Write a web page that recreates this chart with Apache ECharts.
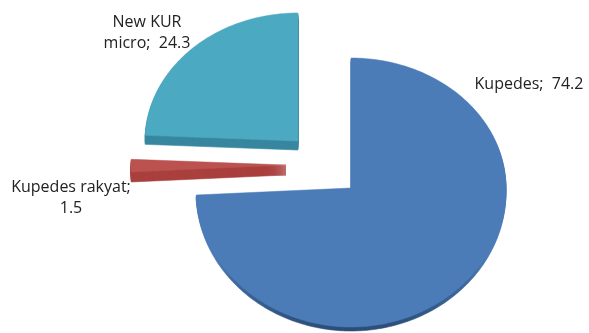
<!DOCTYPE html>
<html>
<head>
<meta charset="utf-8">
<style>html,body{margin:0;padding:0;background:#fff}#chart{width:589px;height:333px}</style>
<script src="https://cdn.jsdelivr.net/npm/echarts@6/dist/echarts.min.js"></script>
</head>
<body>
<div id="chart"></div>
<script>
// Loan portfolio shares, drawn as an exploded tilted pie
const categories = ['Kupedes', 'Kupedes rakyat', 'New KUR micro'];
const values = [74.2, 1.5, 24.3];
const labelLines = [['Kupedes;  74.2'], ['Kupedes rakyat;', '1.5'], ['New KUR', 'micro;  24.3']];

const topColors = ['#4c7cb7', '#bb5250', '#4ba9c1'];
const rimColors = ['#2a4d78', '#aa403e', '#38879f'];
const rimFadeStart = [0.72, 0, 0];

// Per-slice geometry of the tilted disc: apex, radii above/below the apex, rim depth
const discs = [
  { cx: 351, cy: 188, rx: 155, ryUp: 130, ryDown: 139, depth: 4, lx: 529, ly: 84 },
  { cx: 286, cy: 165, rx: 155, ryUp: 130, ryDown: 139, depth: 10, lx: 71, ly: 198 },
  { cx: 298, cy: 141, rx: 153, ryUp: 128, ryDown: 139, depth: 9, lx: 147, ly: 33 }
];

const total = values.reduce((a, b) => a + b, 0);
const starts = values.map((_, i) => values.slice(0, i).reduce((a, b) => a + b, 0));

function slicePoints(i, shift) {
  const d = discs[i];
  const a0 = starts[i] / total * 2 * Math.PI;
  const a1 = (starts[i] + values[i]) / total * 2 * Math.PI;
  const pts = [[d.cx, d.cy + shift]];
  const steps = Math.max(4, Math.ceil((a1 - a0) * 60));
  for (let s = 0; s <= steps; s++) {
    const a = a0 + (a1 - a0) * s / steps;
    const c = Math.cos(a);
    pts.push([d.cx + d.rx * Math.sin(a), d.cy + shift - (c > 0 ? d.ryUp : d.ryDown) * c]);
  }
  return pts;
}

function rimFill(i) {
  if (!rimFadeStart[i]) return rimColors[i];
  return new echarts.graphic.LinearGradient(0, 0, 0, 1, [
    { offset: 0, color: topColors[i] },
    { offset: rimFadeStart[i], color: topColors[i] },
    { offset: 1, color: rimColors[i] }
  ]);
}

function renderSlice(params, api) {
  const i = params.dataIndex;
  const d = discs[i];
  const children = [];
  for (let s = d.depth; s > 0; s--) {
    const fill = rimFill(i);
    children.push({
      type: 'polygon',
      shape: { points: slicePoints(i, s) },
      style: { fill, stroke: fill, lineWidth: 0.6 }
    });
  }
  children.push({
    type: 'polygon',
    shape: { points: slicePoints(i, 0) },
    style: { fill: topColors[i], stroke: topColors[i], lineWidth: 0.5 }
  });
  children.push({
    type: 'text',
    x: d.lx,
    y: d.ly,
    style: {
      text: labelLines[i].join('\n'),
      fill: '#222',
      font: '16px "Open Sans", sans-serif',
      align: 'center',
      verticalAlign: 'middle',
      lineHeight: 21
    }
  });
  return { type: 'group', children };
}

const chart = echarts.init(document.getElementById('chart'), null, { renderer: 'canvas' });
chart.setOption({
  animation: false,
  backgroundColor: '#fff',
  series: [{
    type: 'custom',
    coordinateSystem: 'none',
    renderItem: renderSlice,
    data: categories.map((name, i) => ({ name, value: values[i] }))
  }]
});
</script>
</body>
</html>
